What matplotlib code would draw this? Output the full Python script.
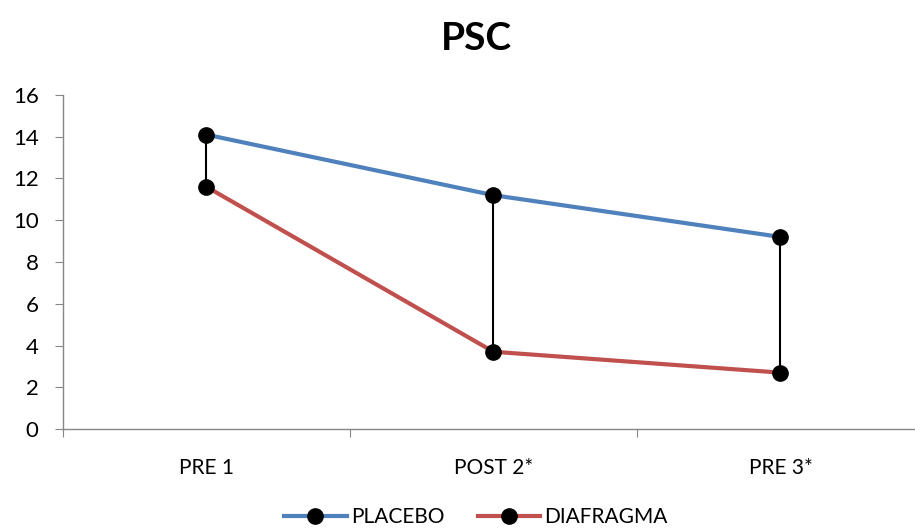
import matplotlib.pyplot as plt
import numpy as np

plt.rcParams['font.family'] = ['Lato', 'DejaVu Sans']

categories = ['PRE 1', 'POST 2*', 'PRE 3*']
placebo = [14.1, 11.2, 9.2]
diafragma = [11.6, 3.7, 2.7]

fig = plt.figure(figsize=(9.15, 5.29), dpi=100)
ax = fig.add_axes([63 / 915, 100 / 529, 861 / 915, 334 / 529])

x = np.arange(len(categories))

# high-low lines between the two series
ax.vlines(x, diafragma, placebo, color='black', linewidth=1.5, zorder=2)

ax.plot(x, placebo, color='#4F81BD', linewidth=3, marker='o', markersize=11,
        markerfacecolor='black', markeredgecolor='black', label='PLACEBO', zorder=3)
ax.plot(x, diafragma, color='#C0504D', linewidth=3, marker='o', markersize=11,
        markerfacecolor='black', markeredgecolor='black', label='DIAFRAGMA', zorder=3)

ax.set_xlim(-0.5, len(categories) - 0.5)
ax.set_ylim(0, 16)
ax.set_yticks(range(0, 17, 2))
ax.set_xticks(np.arange(-0.5, len(categories), 1.0))
ax.set_xticklabels([])
ax.set_xticks(x, minor=True)
ax.set_xticklabels(categories, minor=True)
ax.tick_params(axis='x', which='minor', length=0, pad=21, labelsize=15)
ax.tick_params(axis='x', which='major', length=6, color='#868686')
ax.tick_params(axis='y', length=6, color='#868686', labelsize=16, pad=11.5)

for side in ['top', 'right']:
    ax.spines[side].set_visible(False)
for side in ['left', 'bottom']:
    ax.spines[side].set_color('#868686')
    ax.spines[side].set_linewidth(1)

fig.text(476 / 915, 1 - 38 / 529, 'PSC', ha='center', va='center',
         fontsize=28, fontweight='bold')

fig.legend(loc='center', bbox_to_anchor=(476 / 915, 1 - 517 / 529), ncol=2,
           frameon=False, fontsize=15, handlelength=3, columnspacing=1.6,
           handletextpad=0.2)

fig.savefig('out.png', dpi=100)
